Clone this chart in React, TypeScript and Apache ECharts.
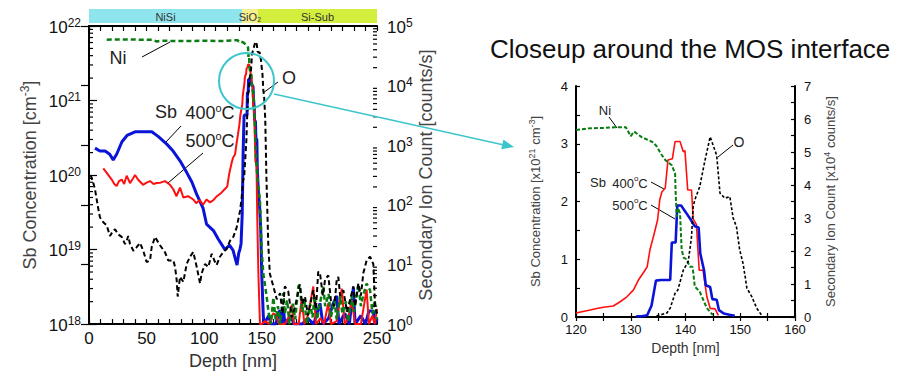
import { useEffect, useRef } from "react";
import * as echarts from "echarts";

const FONT = "'Liberation Sans', Arial, Helvetica, sans-serif";

// ---------- Overview profile (left chart), depth [nm] ----------
// Sb profiles in cm^-3 (left axis), Ni / O in counts/s (right axis)
const sbBlueWide: number[][] = [
  [5.2, 2.3e20], [9.5, 2.1e20], [14, 2.1e20], [18, 1.9e20], [21, 1.6e20], [24, 1.9e20],
  [28.6, 2.8e20], [33, 3.4e20], [40, 3.8e20], [47, 3.8e20], [54.5, 3.8e20], [60, 3.3e20],
  [67.5, 2.6e20], [73, 2.1e20], [79, 1.55e20], [85, 1.07e20], [89.4, 8e19], [93.5, 5.5e19],
  [99, 3.6e19], [102, 2.2e19], [108, 1.8e19], [112, 1.4e19], [118, 1.0e19], [122, 1.15e19],
  [125, 9.8e18], [128.5, 6.2e18], [130, 9e18],
  [150, 4.4e18], [151.3, 1.3e18], [152, 1e18], [156, 1.3e18], [158, 1e18], [162, 1e18],
  [165.8, 1.55e18], [167, 1e18], [168.7, 1.7e18], [170, 1e18], [175, 1.3e18], [178, 1e18],
  [185, 1e18], [190, 1.2e18], [195, 1e18], [200.5, 1.9e18], [203, 1e18], [208, 1.2e18],
  [212, 1.9e18], [215, 2.4e18], [217, 1e18], [222, 1.4e18], [226, 1e18], [229.5, 3.1e18],
  [231, 1e18], [236, 1.3e18], [240, 1e18], [243, 1.5e18], [246.8, 1.5e18], [248, 1e18], [250, 1.2e18],
];

const sbRedWide: number[][] = [
  [12.4, 1.23e20], [15.4, 1.07e20], [19.7, 8.7e19], [22, 7.6e19], [24, 7.1e19], [26, 8.3e19],
  [28.4, 8.7e19], [30.5, 7.6e19], [32.7, 9.8e19], [35.6, 7.8e19], [38, 8.9e19], [40, 1e20],
  [42.5, 8.7e19], [46.9, 7.4e19], [50, 7.9e19], [53, 8.3e19], [56, 7.6e19], [58.8, 7.8e19],
  [62, 7.9e19], [66, 8.3e19], [70.3, 7.4e19], [73, 6.5e19], [76, 5.2e19], [79, 6.8e19],
  [81.9, 5e19], [86, 5.2e19], [90.5, 4.7e19], [93, 4.2e19], [96, 4.6e19], [99, 4e19],
  [102, 4.7e19], [105, 4.3e19], [108, 4.6e19], [111, 5.2e19], [115, 5.8e19], [118, 6.5e19],
  [147, 5e18], [148.4, 1e18], [150, 1e18], [153, 1.1e18], [156, 1e18], [160, 1.4e18],
  [163, 1.26e18], [165, 1e18], [170, 1e18], [173, 1.2e18], [176, 1.8e18], [178, 1e18],
  [182, 1e18], [184.6, 2.2e18], [187, 1e18], [190, 1.3e18], [194.7, 3.2e18], [197, 1e18],
  [201, 1.2e18], [204, 1e18], [207.7, 1.9e18], [210, 1e18], [215, 1.1e18], [219.4, 3e18],
  [222, 1e18], [225, 1.2e18], [228, 2.1e18], [231, 1e18], [236, 1e18], [241, 2.9e18],
  [243, 1e18], [246, 1.3e18], [248, 1e18], [250, 1.6e18],
];

const oxygenWide: number[][] = [
  [1.5, 316], [3.7, 234], [5.2, 182], [6.7, 123], [8.1, 85], [9.5, 62], [12.4, 51], [15.4, 45],
  [18.2, 30], [21.1, 37], [22.6, 39], [25.4, 32], [28.4, 29], [31.3, 22], [32.7, 25], [34.1, 30],
  [35.6, 22], [38.5, 17], [41.4, 19.5], [44.3, 23], [47.1, 17], [50, 11], [53, 11.7], [54.4, 19.5],
  [57.3, 29], [61.6, 21], [66, 16], [68.8, 11.7], [73.2, 11.7], [74.7, 9.1], [76.1, 5.5], [77, 2.9],
  [79, 6.2], [81.9, 5.1], [84.8, 10.2], [87.7, 13.5], [90.5, 16.2], [93.5, 9.1], [96.4, 4.8],
  [97.8, 7.1], [100.7, 10.2], [103.6, 9.1], [106.5, 15.1], [109.4, 11], [110.8, 9.8], [113.7, 13.5],
  [116.6, 16.2], [119.5, 18.2], [122.4, 25], [125.3, 29], [128.2, 42], [131.1, 79], [132.5, 132],
  [133.7, 250],
  [155.6, 22], [157, 7], [160, 4.3], [163, 2.6], [165.9, 3.3], [168, 1.5], [170, 4.3], [173, 3.5],
  [176, 1.3], [179, 2.0], [183, 4.6], [185, 2.2], [187.5, 2.9], [190, 1.4], [194.7, 3.7], [197, 1.8],
  [199, 7.6], [200.5, 7.1], [203, 3.0], [204.9, 5.5], [207.7, 6.6], [210, 2.5], [213, 2.0], [215, 5.5],
  [216.4, 6.2], [218, 3.0], [220.8, 3.7], [224, 1.6], [226, 2.3], [229.5, 4.3], [231, 2.0],
  [233.8, 4.8], [236, 3.0], [238.1, 7.1], [241, 11.7], [244, 13.5], [246.8, 10.2], [248.3, 2.0], [250, 1.5],
];

const nickelWide: number[][] = [
  [15.4, 5.9e4], [30, 5.95e4], [45, 5.9e4], [55, 5.85e4], [58.8, 5.5e4], [62, 5.65e4],
  [80, 5.6e4], [100, 5.65e4], [115, 5.6e4],
  [146.5, 250], [148.4, 115], [149.9, 17], [151.3, 7], [154.2, 2.9],
  [156, 1.5], [158, 1], [160, 2.8], [162, 1.2], [164, 2], [166, 1], [168.7, 3.3], [170, 1.5],
  [172, 2.5], [174, 1], [177, 2.2], [179, 1.2], [181.7, 4.3], [183, 4.6], [185, 1.6], [187, 2.6],
  [189, 1], [192, 2.2], [194, 1.3], [196, 3], [198, 1.2], [200, 2], [203.4, 4.3], [205, 2],
  [208, 3.2], [210, 1.3], [213, 2.5], [215, 1.2], [218, 3], [220, 1.5], [223, 2.4], [225, 1.1],
  [228, 3], [230, 1.6], [233.8, 4.6], [236, 2], [238, 3], [241, 4.8], [244, 3.7], [246, 1.5],
  [248, 2.5], [250, 1.2],
];

// ---------- Closeup (120–160 nm) ----------
// Sb in 1e21 cm^-3 (left axis), Ni / O in 1e4 counts/s (right axis)
const sbBlueClose: number[][] = [
  [131, 0.01], [132, 0.012], [133, 0.03], [133.8, 0.2], [134.6, 0.63], [135.5, 0.64], [137.2, 0.64],
  [137.5, 1.29], [138.2, 1.29], [138.5, 1.93], [139.2, 1.93], [140, 1.82], [141, 1.68], [141.7, 1.57],
  [142.4, 1.55], [142.7, 1.1], [143.4, 0.8], [143.7, 0.55], [144.5, 0.52], [144.9, 0.31], [145.7, 0.3],
  [146.1, 0.12], [147, 0.06], [148, 0.04], [149, 0.02],
];

const sbRedClose: number[][] = [
  [120, 0.07], [121.5, 0.1], [122.6, 0.12], [124, 0.15], [125, 0.17], [126.8, 0.19], [128, 0.26],
  [129.3, 0.35], [130.5, 0.47], [131.4, 0.64], [132.4, 0.78], [133, 0.87], [133.5, 1.16], [134.3, 1.45],
  [134.9, 1.68], [135.3, 2.03], [135.7, 2.17], [136.3, 2.23], [136.8, 2.72], [137.6, 2.74], [138.1, 3.04],
  [139, 3.04], [139.6, 2.86], [139.9, 2.88], [140.4, 2.2], [141.1, 2.2], [141.4, 1.7], [142, 1.6],
  [142.5, 0.81], [143.2, 0.81], [143.9, 0.35], [144.5, 0.15], [145.4, 0.14], [146, 0.03],
];

const oxygenClose: number[][] = [
  [134.7, 0.03], [136.6, 0.12], [137.2, 0.27], [138.1, 0.72], [138.6, 0.82], [139.6, 1.42], [140.5, 1.68],
  [141.1, 2.43], [141.4, 3.34], [141.7, 3.55], [142.6, 3.95], [143.5, 4.7], [144.5, 5.46], [145.7, 4.9],
  [146.3, 3.75], [147.2, 3.6], [148.1, 3.65], [148.7, 3.0], [149.3, 2.74], [149.9, 2.03], [150.5, 1.63],
  [150.9, 1.22], [151.2, 0.88], [152.1, 0.62], [153, 0.27], [154, 0.03],
];

const nickelClose: number[][] = [
  [120, 5.67], [122.6, 5.72], [125, 5.73], [127, 5.75], [129.1, 5.75], [130, 5.48], [130.6, 5.62],
  [132, 5.45], [134, 5.3], [134.7, 5.18], [135.5, 4.95], [136.3, 4.76], [137.5, 4.6], [138.1, 4.35],
  [138.2, 3.76], [138.4, 3.04], [138.6, 3.3], [139, 3.15], [139.3, 2.03], [139.7, 1.79], [140.2, 1.75],
  [140.8, 1.52], [141.3, 1.52], [141.7, 0.92], [142.6, 0.77], [143.3, 0.5], [143.9, 0.27], [145, 0.06],
];

// Layer band above the overview
const bandNames = ["NiSi", "SiO₂", "Si-Sub"];
const bandStart = [0, 132.8, 146.7];
const bandEnd = [132.8, 146.7, 250];
const bandColors = ["#8fe5ee", "#f6f08c", "#d4ee3e"];

const SB_UNIT = 1e21;
const ION_UNIT = 1e4;

function merge(wide: number[][], close: number[][], unit: number) {
  return wide
    .concat(close.map(([d, v]) => [d, v * unit]))
    .filter((p) => p[1] > 0)
    .sort((a, b) => a[0] - b[0]);
}

const BLUE = "#0a14d8";
const RED = "#ff1010";
const GREEN = "#0a7d12";
const BLACK = "#000000";
const TEAL = "#3cc6cc";

const supRich = (base: number, sup: number, color: string) => ({
  b: { fontSize: base, fontFamily: FONT, color, verticalAlign: "bottom", lineHeight: base + 2 },
  s: { fontSize: sup, fontFamily: FONT, color, verticalAlign: "top", lineHeight: base + 2 },
});

const degRich = (base: number, sup: number) => ({
  b: { fontSize: base, fontFamily: FONT, fill: "#222", verticalAlign: "bottom", lineHeight: base + 2 },
  s: { fontSize: sup, fontFamily: FONT, fill: "#222", verticalAlign: "top", lineHeight: base + 2 },
});

export default function App() {
  const ref = useRef<HTMLDivElement>(null);
  useEffect(() => {
    if (!ref.current) return;
    const chart = echarts.init(ref.current, undefined, { renderer: "svg" });

    const minorLeft: number[][] = [];
    for (let e = 18; e < 22; e++) for (let k = 2; k <= 9; k++) minorLeft.push([0, k * Math.pow(10, e)]);
    const minorRight: number[][] = [];
    for (let e = 0; e < 5; e++) for (let k = 2; k <= 9; k++) minorRight.push([250, k * Math.pow(10, e)]);

    const powLabel = (v: number) => `{b|10}{s|${Math.round(Math.log10(v))}}`;

    const axisLineStyle = { color: "#000", width: 2 };
    const tickStyle = { color: "#000", width: 1.2 };

    const option: any = {
      animation: false,
      backgroundColor: "#fff",
      textStyle: { fontFamily: FONT },
      title: {
        text: "Closeup around the MOS interface",
        left: 485,
        top: 31,
        textStyle: { fontSize: 26, fontWeight: "normal", color: "#111", fontFamily: FONT },
      },
      grid: [
        { left: 89, top: 26, width: 288, height: 302 },
        { left: 576, top: 86, width: 219, height: 231 },
        { left: 89, top: 9, width: 288, height: 14 },
      ],
      xAxis: [
        {
          gridIndex: 0, type: "value", min: 0, max: 250, interval: 50, position: "bottom",
          axisLine: { lineStyle: axisLineStyle },
          axisTick: { inside: true, length: 5, lineStyle: tickStyle },
          minorTick: { show: true, splitNumber: 5, length: 5, lineStyle: tickStyle },
          axisLabel: { fontSize: 17, color: "#111", margin: 6, fontFamily: FONT },
          splitLine: { show: false },
          name: "Depth [nm]", nameLocation: "middle", nameGap: 24,
          nameTextStyle: { fontSize: 18, color: "#333", fontFamily: FONT },
        },
        {
          gridIndex: 0, type: "value", min: 0, max: 250, interval: 50, position: "top",
          axisLine: { lineStyle: axisLineStyle },
          axisTick: { inside: true, length: 5, lineStyle: tickStyle },
          minorTick: { show: true, splitNumber: 5, length: 5, lineStyle: tickStyle },
          axisLabel: { show: false }, splitLine: { show: false },
        },
        {
          gridIndex: 1, type: "value", min: 120, max: 160, interval: 10, position: "bottom",
          axisLine: { lineStyle: axisLineStyle },
          axisTick: { inside: true, length: 4, lineStyle: tickStyle },
          minorTick: { show: true, splitNumber: 2, length: 4, lineStyle: tickStyle },
          axisLabel: { fontSize: 13, color: "#111", margin: 6, fontFamily: FONT },
          splitLine: { show: false },
          name: "Depth [nm]", nameLocation: "middle", nameGap: 20,
          nameTextStyle: { fontSize: 14, color: "#333", fontFamily: FONT },
        },
        {
          gridIndex: 1, type: "value", min: 120, max: 160, interval: 10, position: "top",
          axisLine: { lineStyle: axisLineStyle },
          axisTick: { inside: true, length: 4, lineStyle: tickStyle },
          minorTick: { show: true, splitNumber: 2, length: 4, lineStyle: tickStyle },
          axisLabel: { show: false }, splitLine: { show: false },
        },
        { gridIndex: 2, type: "value", min: 0, max: 250, show: false },
      ],
      yAxis: [
        {
          gridIndex: 0, type: "log", logBase: 10, min: 1e18, max: 1e22, position: "left",
          axisLine: { lineStyle: axisLineStyle },
          axisTick: { inside: true, length: 8, lineStyle: tickStyle },
          axisLabel: { formatter: powLabel, rich: supRich(17, 12, "#111"), margin: 8 },
          splitLine: { show: false },
          name: "{a|Sb Concentration [cm}{s|-3}{a|]}", nameLocation: "middle", nameGap: 50,
          nameTextStyle: {
            rich: {
              a: { fontSize: 18, color: "#444", fontFamily: FONT, verticalAlign: "bottom", lineHeight: 20 },
              s: { fontSize: 12, color: "#444", fontFamily: FONT, verticalAlign: "top", lineHeight: 20 },
            },
          },
        },
        {
          gridIndex: 0, type: "log", logBase: 10, min: 1, max: 1e5, position: "right",
          axisLine: { lineStyle: axisLineStyle },
          axisTick: { inside: true, length: 8, lineStyle: tickStyle },
          axisLabel: { formatter: powLabel, rich: supRich(17, 12, "#111"), margin: 10 },
          splitLine: { show: false },
          name: "Secondary Ion Count [counts/s]", nameLocation: "middle", nameGap: 40,
          nameTextStyle: { fontSize: 18, color: "#444", fontFamily: FONT },
        },
        {
          gridIndex: 1, type: "value", min: 0, max: 4, interval: 1, position: "left",
          axisLine: { lineStyle: axisLineStyle },
          axisTick: { inside: true, length: 4, lineStyle: tickStyle },
          minorTick: { show: true, splitNumber: 2, length: 4, lineStyle: tickStyle },
          axisLabel: { fontSize: 13, color: "#111", margin: 8, fontFamily: FONT },
          splitLine: { show: false },
          name: "{a|Sb Concentration [x10}{s|21}{a| cm}{s|-3}{a|]}", nameLocation: "middle", nameGap: 34,
          nameTextStyle: {
            rich: {
              a: { fontSize: 13, color: "#444", fontFamily: FONT, verticalAlign: "bottom", lineHeight: 15 },
              s: { fontSize: 9, color: "#444", fontFamily: FONT, verticalAlign: "top", lineHeight: 15 },
            },
          },
        },
        {
          gridIndex: 1, type: "value", min: 0, max: 7, interval: 1, position: "right",
          axisLine: { lineStyle: axisLineStyle },
          axisTick: { inside: true, length: 4, lineStyle: tickStyle },
          minorTick: { show: true, splitNumber: 2, length: 4, lineStyle: tickStyle },
          axisLabel: { fontSize: 13, color: "#111", margin: 9, fontFamily: FONT },
          splitLine: { show: false },
          name: "{a|Secondary Ion Count [x10}{s|4}{a| counts/s]}", nameLocation: "middle", nameGap: 27,
          nameTextStyle: {
            rich: {
              a: { fontSize: 13, color: "#444", fontFamily: FONT, verticalAlign: "bottom", lineHeight: 15 },
              s: { fontSize: 9, color: "#444", fontFamily: FONT, verticalAlign: "top", lineHeight: 15 },
            },
          },
        },
        { gridIndex: 2, type: "value", min: 0, max: 1, show: false },
      ],
      series: [
        // ---- overview ----
        {
          type: "line", xAxisIndex: 0, yAxisIndex: 0, data: merge(sbBlueWide, sbBlueClose, SB_UNIT),
          symbol: "none", lineStyle: { color: BLUE, width: 3 }, clip: true, z: 3,
        },
        {
          type: "line", xAxisIndex: 0, yAxisIndex: 0, data: merge(sbRedWide, sbRedClose, SB_UNIT),
          symbol: "none", lineStyle: { color: RED, width: 2 }, clip: true, z: 3,
        },
        {
          type: "line", xAxisIndex: 0, yAxisIndex: 1, data: merge(nickelWide, nickelClose, ION_UNIT),
          symbol: "none", lineStyle: { color: GREEN, width: 2.5, type: [5, 3] }, clip: true, z: 4,
        },
        {
          type: "line", xAxisIndex: 0, yAxisIndex: 1, data: merge(oxygenWide, oxygenClose, ION_UNIT),
          symbol: "none", lineStyle: { color: BLACK, width: 2, type: [5, 3] }, clip: true, z: 4,
        },
        // ---- closeup ----
        {
          type: "line", xAxisIndex: 2, yAxisIndex: 2, data: sbRedClose,
          symbol: "none", lineStyle: { color: RED, width: 1.6 }, clip: true, z: 3,
        },
        {
          type: "line", xAxisIndex: 2, yAxisIndex: 2, data: sbBlueClose,
          symbol: "none", lineStyle: { color: BLUE, width: 2.6 }, clip: true, z: 3,
        },
        {
          type: "line", xAxisIndex: 2, yAxisIndex: 3, data: nickelClose,
          symbol: "none", lineStyle: { color: GREEN, width: 2, type: [4, 2] }, clip: true, z: 4,
        },
        {
          type: "line", xAxisIndex: 2, yAxisIndex: 3, data: oxygenClose,
          symbol: "none", lineStyle: { color: BLACK, width: 1.6, type: [3, 2] }, clip: true, z: 4,
        },
        // ---- log minor ticks ----
        {
          type: "custom", xAxisIndex: 0, yAxisIndex: 0, data: minorLeft, silent: true, z: 5,
          renderItem: (_p: any, api: any) => {
            const pt = api.coord([api.value(0), api.value(1)]);
            return { type: "line", shape: { x1: pt[0], y1: pt[1], x2: pt[0] + 4, y2: pt[1] }, style: { stroke: "#000", lineWidth: 1.2 } };
          },
        },
        {
          type: "custom", xAxisIndex: 0, yAxisIndex: 1, data: minorRight, silent: true, z: 5,
          renderItem: (_p: any, api: any) => {
            const pt = api.coord([api.value(0), api.value(1)]);
            return { type: "line", shape: { x1: pt[0], y1: pt[1], x2: pt[0] - 4, y2: pt[1] }, style: { stroke: "#000", lineWidth: 1.2 } };
          },
        },
        // ---- layer band: rectangles ----
        {
          type: "custom", xAxisIndex: 4, yAxisIndex: 4, silent: true, z: 2,
          data: bandNames.map((_n, i) => [bandStart[i], bandEnd[i], i]),
          renderItem: (_p: any, api: any) => {
            const i = api.value(2);
            const a = api.coord([api.value(0), 1]);
            const b = api.coord([api.value(1), 0]);
            return { type: "rect", shape: { x: a[0], y: a[1], width: b[0] - a[0], height: b[1] - a[1] }, style: { fill: bandColors[i] } };
          },
        },
        // ---- layer band: labels (drawn above all rectangles) ----
        {
          type: "custom", xAxisIndex: 4, yAxisIndex: 4, silent: true, z: 6,
          data: bandNames.map((_n, i) => [bandStart[i], bandEnd[i], i]),
          renderItem: (_p: any, api: any) => {
            const i = api.value(2);
            const a = api.coord([api.value(0), 1]);
            const b = api.coord([api.value(1), 0]);
            return {
              type: "text", x: (a[0] + b[0]) / 2, y: (a[1] + b[1]) / 2 + 0.5,
              style: { text: bandNames[i], align: "center", verticalAlign: "middle", fontSize: 11, fontFamily: FONT, fill: "#333" },
            };
          },
        },
      ],
      graphic: [
        // overview annotations
        { type: "text", x: 118, y: 58, style: { text: "Ni", font: `18px ${FONT}`, fill: "#222", align: "center", verticalAlign: "middle" } },
        { type: "line", shape: { x1: 142, y1: 57, x2: 170, y2: 42 }, style: { stroke: "#000", lineWidth: 1 } },
        { type: "text", x: 289, y: 78, style: { text: "O", font: `18px ${FONT}`, fill: "#222", align: "center", verticalAlign: "middle" } },
        { type: "line", shape: { x1: 278, y1: 82, x2: 263, y2: 93 }, style: { stroke: "#000", lineWidth: 1 } },
        { type: "text", x: 166, y: 112, style: { text: "Sb", font: `18px ${FONT}`, fill: "#222", align: "center", verticalAlign: "middle" } },
        { type: "text", x: 210, y: 112, style: { text: "{b|400}{s|o}{b|C}", align: "center", verticalAlign: "middle", rich: degRich(18, 11) } },
        { type: "line", shape: { x1: 181, y1: 126, x2: 165, y2: 143 }, style: { stroke: "#000", lineWidth: 1 } },
        { type: "text", x: 210, y: 140, style: { text: "{b|500}{s|o}{b|C}", align: "center", verticalAlign: "middle", rich: degRich(18, 11) } },
        { type: "line", shape: { x1: 203, y1: 153, x2: 168, y2: 183 }, style: { stroke: "#000", lineWidth: 1 } },
        // circle + arrow
        { type: "ellipse", shape: { cx: 246.5, cy: 81, rx: 27.5, ry: 28 }, style: { fill: "none", stroke: TEAL, lineWidth: 2 }, z: 10 },
        { type: "line", shape: { x1: 274, y1: 94, x2: 504, y2: 145 }, style: { stroke: TEAL, lineWidth: 1.5 }, z: 10 },
        { type: "polygon", shape: { points: [[514, 147], [501.2, 149.3], [503.4, 139.5]] }, style: { fill: TEAL }, z: 10 },
        // closeup annotations
        { type: "text", x: 605, y: 110, style: { text: "Ni", font: `13px ${FONT}`, fill: "#222", align: "center", verticalAlign: "middle" } },
        { type: "line", shape: { x1: 609, y1: 117, x2: 617, y2: 128 }, style: { stroke: "#000", lineWidth: 1 } },
        { type: "text", x: 739, y: 142, style: { text: "O", font: `14px ${FONT}`, fill: "#222", align: "center", verticalAlign: "middle" } },
        { type: "line", shape: { x1: 733, y1: 145, x2: 718, y2: 157 }, style: { stroke: "#000", lineWidth: 1 } },
        { type: "text", x: 598, y: 182, style: { text: "Sb", font: `13px ${FONT}`, fill: "#222", align: "center", verticalAlign: "middle" } },
        { type: "text", x: 630, y: 182, style: { text: "{b|400}{s|o}{b|C}", align: "center", verticalAlign: "middle", rich: degRich(13, 8) } },
        { type: "line", shape: { x1: 651, y1: 182, x2: 664, y2: 189 }, style: { stroke: "#000", lineWidth: 1 } },
        { type: "text", x: 630, y: 204, style: { text: "{b|500}{s|o}{b|C}", align: "center", verticalAlign: "middle", rich: degRich(13, 8) } },
        { type: "line", shape: { x1: 651, y1: 205, x2: 675, y2: 219 }, style: { stroke: "#000", lineWidth: 1 } },
      ],
    };

    chart.setOption(option);
    return () => chart.dispose();
  }, []);

  return (
    <div
      ref={ref}
      style={{ position: "fixed", left: 0, top: 0, width: 908, height: 375, background: "#fff" }}
    />
  );
}
